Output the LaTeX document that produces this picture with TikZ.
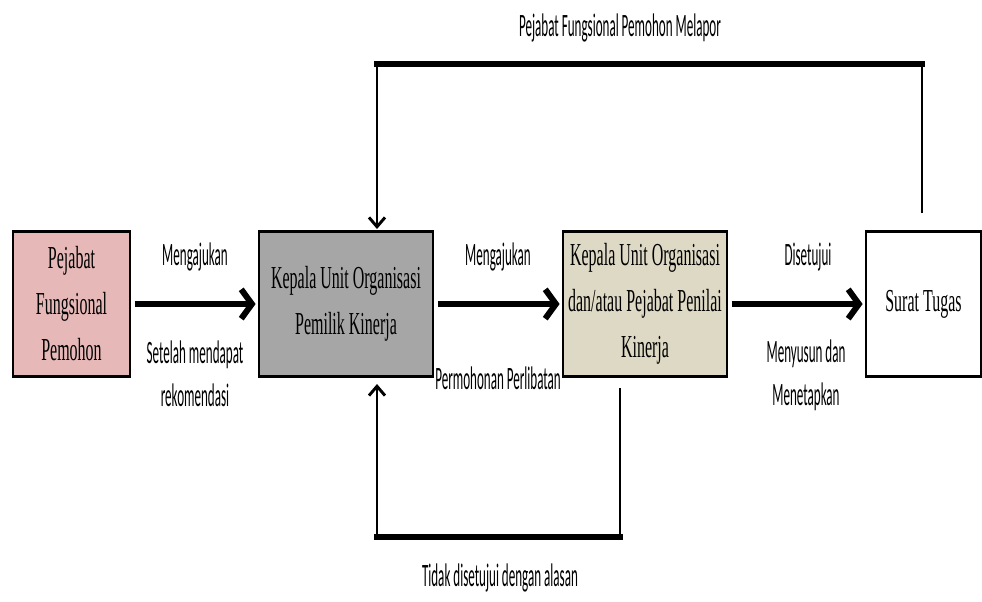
\documentclass[tikz,border=0pt]{standalone}
\usepackage{fontspec}
\usetikzlibrary{arrows.meta}
\newfontfamily\lblfont[FakeStretch=0.4]{Carlito}
\newfontfamily\boxfont[FakeStretch=0.5]{Liberation Serif}
\definecolor{pinkfill}{RGB}{230,184,183}
\definecolor{grayfill}{RGB}{166,166,166}
\definecolor{beigefill}{RGB}{221,217,196}
\tikzset{
  boxnode/.style={draw=black, line width=1.1pt, minimum height=108pt, inner sep=0pt, align=center,
     font=\boxfont\fontsize{24}{34.5}\selectfont},
  lbl/.style={inner sep=0pt, align=center, font=\lblfont\fontsize{24.5}{32}\selectfont},
  mainarrow/.style={line width=4.5pt, -{Straight Barb[length=8pt,width=22pt]}},
  thinloop/.style={line width=2.2pt},
  thickloop/.style={line width=3.8pt, line cap=rect},
  looparrow/.style={line width=2.2pt, -{Straight Barb[length=7pt,width=12pt]}},
  edgebar/.style={line width=2.6pt}
}
\begin{document}
\begin{tikzpicture}[x=0.75pt,y=-0.75pt]
\useasboundingbox (0,0) rectangle (982,601);
% boxes
\node[boxnode, fill=pinkfill, minimum width=87.75pt] (A) at (71.5,304) {Pejabat\\Fungsional\\Pemohon};
\node[boxnode, fill=grayfill, minimum width=130.5pt] (B) at (346,304) {Kepala Unit Organisasi\\Pemilik Kinerja};
\node[boxnode, fill=beigefill, minimum width=123pt] (C) at (645,304) {Kepala Unit Organisasi\\dan/atau Pejabat Penilai\\Kinerja};
\node[boxnode, fill=white, minimum width=86.25pt] (D) at (923.5,304) {Surat Tugas};
\foreach \n in {A,B,C,D}{
  \draw[edgebar] (\n.north west) -- (\n.north east);
  \draw[edgebar] (\n.south west) -- (\n.south east);
}
% main arrows
\draw[mainarrow] ([xshift=3pt]A.east) -- ([xshift=-2pt]B.west);
\draw[mainarrow] ([xshift=3pt]B.east) -- ([xshift=-2pt]C.west);
\draw[mainarrow] ([xshift=3pt]C.east) -- ([xshift=-2pt]D.west);
% top loop
\coordinate (dtop) at (922,213);
\coordinate (t1) at (922,64);
\coordinate (t2) at (377,64);
\coordinate (btop) at (377,229);
\draw[thinloop] (dtop) -- (t1);
\draw[thickloop] (t1) -- (t2);
\draw[looparrow] (t2) -- (btop);
% bottom loop
\coordinate (cbot) at (620,388);
\coordinate (b1) at (620,537);
\coordinate (b2) at (377,537);
\coordinate (bbot) at (377,384);
\draw[thinloop] (cbot) -- (b1);
\draw[thickloop] (b1) -- (b2);
\draw[looparrow] (b2) -- (bbot);
% labels
\node[lbl] (ltop) at (620,28) {Pejabat Fungsional Pemohon Melapor};
\node[lbl] (lm1) at (195,257) {Mengajukan};
\node[lbl] (ls1) at (195,374) {Setelah mendapat\\rekomendasi};
\node[lbl] (lm2) at (498,257) {Mengajukan};
\node[lbl] (lp2) at (498,378) {Permohonan Perlibatan};
\node[lbl] (ld3) at (808,257) {Disetujui};
\node[lbl] (ln3) at (806,375) {Menyusun dan\\Menetapkan};
\node[lbl] (lbot) at (500,578) {Tidak disetujui dengan alasan};
\end{tikzpicture}
\end{document}
